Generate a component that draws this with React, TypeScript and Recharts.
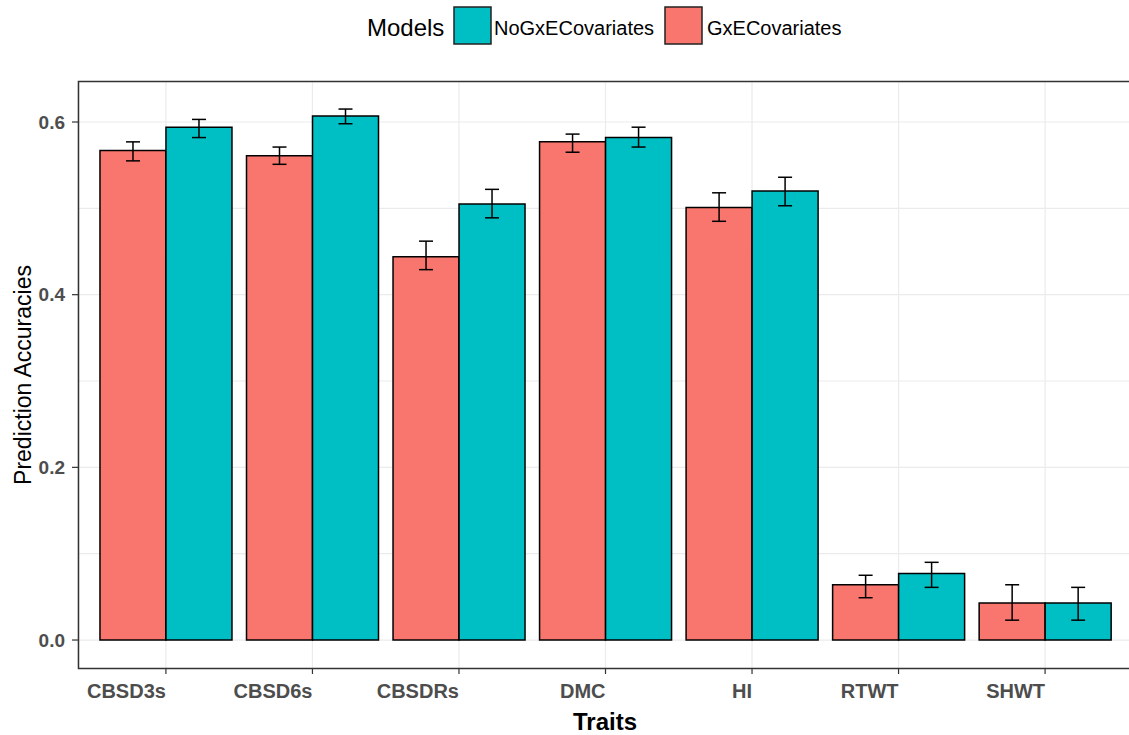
import { Bar, BarChart, CartesianGrid, ErrorBar, XAxis, YAxis } from 'recharts';

const TRAITS = ['CBSD3s', 'CBSD6s', 'CBSDRs', 'DMC', 'HI', 'RTWT', 'SHWT'];

// GxECovariates (red)
const GXE_MEAN = [0.567, 0.561, 0.444, 0.577, 0.501, 0.064, 0.043];
const GXE_LO = [0.555, 0.551, 0.429, 0.565, 0.485, 0.049, 0.023];
const GXE_HI = [0.577, 0.571, 0.462, 0.586, 0.518, 0.075, 0.064];

// NoGxECovariates (teal)
const NOGXE_MEAN = [0.594, 0.607, 0.505, 0.582, 0.520, 0.077, 0.043];
const NOGXE_LO = [0.582, 0.598, 0.489, 0.571, 0.503, 0.061, 0.023];
const NOGXE_HI = [0.603, 0.615, 0.522, 0.594, 0.536, 0.090, 0.061];

const Y_TICKS = [0, 0.2, 0.4, 0.6];
const Y_GRID = [0, 0.1, 0.2, 0.3, 0.4, 0.5, 0.6];

const RED = '#F8766D';
const TEAL = '#00BFC4';
const TICK_COL = '#4D4D4D';
const FONT = 'Liberation Sans, Arial, sans-serif';

const rows = TRAITS.map((t, i) => ({
  trait: t,
  gxe: GXE_MEAN[i],
  gxeErr: [GXE_MEAN[i] - GXE_LO[i], GXE_HI[i] - GXE_MEAN[i]],
  nogxe: NOGXE_MEAN[i],
  nogxeErr: [NOGXE_MEAN[i] - NOGXE_LO[i], NOGXE_HI[i] - NOGXE_MEAN[i]],
}));

function XTick({ x, y, payload }: any) {
  return (
    <text x={x} y={y + 8} textAnchor="end" dominantBaseline="hanging" fontSize={20} fontWeight="bold" fill={TICK_COL} fontFamily={FONT}>
      {payload.value}
    </text>
  );
}

export default function App() {
  return (
    <div style={{ position: 'absolute', left: 0, top: 0, width: 1129, height: 735, overflow: 'hidden', background: '#fff', fontFamily: FONT }}>
      <BarChart
        width={1135}
        height={735}
        data={rows}
        margin={{ top: 81, right: 2, left: 0, bottom: 0 }}
        barCategoryGap="5%"
        barGap={0}
      >
        <CartesianGrid stroke="#EBEBEB" strokeWidth={1.2} horizontalValues={Y_GRID} />
        <XAxis
          dataKey="trait"
          height={67}
          padding={{ left: 14.65, right: 14.65 }}
          axisLine={false}
          tickLine={{ stroke: '#333', strokeWidth: 1.2 }}
          tickSize={6}
          tick={<XTick />}
          interval={0}
        />
        <YAxis
          width={78}
          type="number"
          domain={[-0.0324, 0.6475]}
          ticks={Y_TICKS}
          allowDataOverflow
          tickFormatter={(v: number) => v.toFixed(1)}
          axisLine={false}
          tickLine={{ stroke: '#333', strokeWidth: 1.2 }}
          tickSize={6}
          tickMargin={7}
          tick={{ fontSize: 19, fontWeight: 'bold', fill: TICK_COL, fontFamily: FONT }}
        />
        <Bar dataKey="gxe" name="GxECovariates" fill={RED} stroke="#000" strokeWidth={1.5} isAnimationActive={false}>
          <ErrorBar dataKey="gxeErr" width={7} stroke="#000" strokeWidth={1.5} direction="y" />
        </Bar>
        <Bar dataKey="nogxe" name="NoGxECovariates" fill={TEAL} stroke="#000" strokeWidth={1.5} isAnimationActive={false}>
          <ErrorBar dataKey="nogxeErr" width={7} stroke="#000" strokeWidth={1.5} direction="y" />
        </Bar>
      </BarChart>
      <svg width={1129} height={735} style={{ position: 'absolute', left: 0, top: 0, pointerEvents: 'none' }}>
        {/* panel border (right edge falls just outside the picture) */}
        <rect x={78.5} y={81.5} width={1055} height={587} fill="none" stroke="#333" strokeWidth={1.5} />
        {/* legend */}
        <text x={367} y={36} fontSize={24} fill="#000" fontFamily={FONT}>Models</text>
        <rect x={454} y={7} width={37} height={37} fill={TEAL} stroke="#222" strokeWidth={1.5} />
        <text x={494} y={35} fontSize={20} fill="#000" fontFamily={FONT}>NoGxECovariates</text>
        <rect x={665} y={7} width={37} height={37} fill={RED} stroke="#222" strokeWidth={1.5} />
        <text x={707} y={35} fontSize={20} fill="#000" fontFamily={FONT}>GxECovariates</text>
        {/* axis titles */}
        <text x={23} y={375} transform="rotate(-90 23 375)" textAnchor="middle" dominantBaseline="central" fontSize={23} fill="#000" fontFamily={FONT}>
          Prediction Accuracies
        </text>
        <text x={605} y={730} textAnchor="middle" fontSize={24} fontWeight="bold" fill="#000" fontFamily={FONT}>
          Traits
        </text>
      </svg>
    </div>
  );
}
